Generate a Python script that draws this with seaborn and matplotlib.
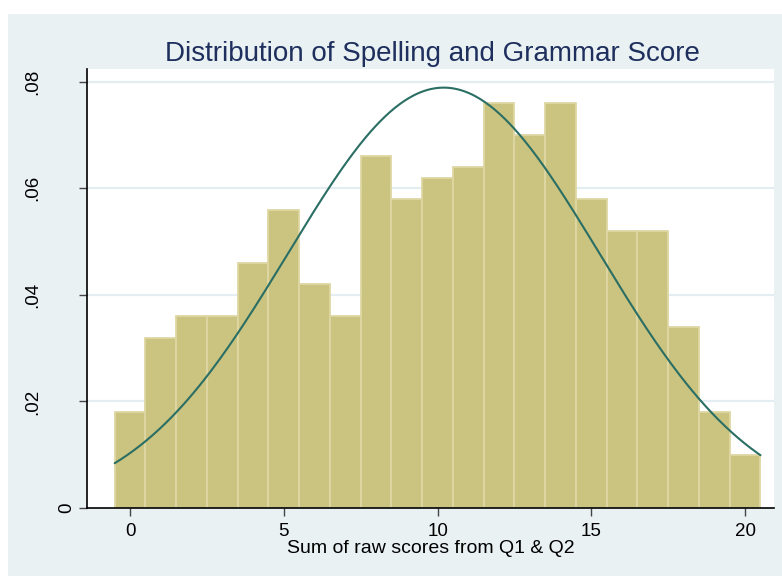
import numpy as np
import pandas as pd
import matplotlib
matplotlib.use("Agg")
import matplotlib.pyplot as plt
import seaborn as sns
from matplotlib.patches import Rectangle

# ---- data ----
scores = list(range(0, 21))
density = [0.018, 0.032, 0.036, 0.036, 0.046, 0.056, 0.042, 0.036, 0.066, 0.058,
           0.062, 0.064, 0.076, 0.070, 0.076, 0.058, 0.052, 0.052, 0.034, 0.018, 0.010]
x_ticks = [0, 5, 10, 15, 20]
x_tick_labels = ["0", "5", "10", "15", "20"]
y_ticks = [0, 0.02, 0.04, 0.06, 0.08]
y_tick_labels = ["0", ".02", ".04", ".06", ".08"]
title = "Distribution of Spelling and Grammar Score"
xlabel = "Sum of raw scores from Q1 & Q2"

df = pd.DataFrame({"score": scores, "density": density})

# normal curve fitted from the histogram (like Stata's `normal` option)
w = np.array(density) / np.sum(density)
s = np.array(scores, dtype=float)
mu = np.sum(w * s)
sd = np.sqrt(np.sum(w * (s - mu) ** 2))
xs = np.linspace(-0.5, 20.5, 400)
curve = pd.DataFrame({"x": xs, "y": np.exp(-0.5 * ((xs - mu) / sd) ** 2) / (sd * np.sqrt(2 * np.pi))})

sns.set_theme(style="white")
plt.rcParams["font.family"] = ["Liberation Sans", "DejaVu Sans"]

BG = "#EAF1F3"
BAR = "#CBC380"
EDGE = "#DED7A3"
LINE = "#2A6E64"
TITLE_C = "#1E2F5E"
GRID = "#E4EDF1"

fig = plt.figure(figsize=(7.82, 5.76), dpi=100)
fig.patch.set_facecolor("white")
fig.patches.append(Rectangle((8 / 782, 0), 1, (576 - 14) / 576, transform=fig.transFigure,
                             facecolor=BG, edgecolor="none", zorder=-10))

ax = fig.add_axes([87 / 782, (576 - 508) / 576, (774 - 87) / 782, (508 - 69) / 576])
ax.set_facecolor("white")

for yv in y_ticks[1:]:
    ax.axhline(yv, color=GRID, lw=1.6, zorder=0)

sns.histplot(data=df, x="score", weights="density", discrete=True, stat="count",
             color=BAR, edgecolor=EDGE, linewidth=1.3, alpha=1, ax=ax, zorder=2)
sns.lineplot(data=curve, x="x", y="y", color=LINE, lw=1.5, ax=ax, zorder=3)

ax.set_xlim(-1.4, 20.94)
ax.set_ylim(0, 0.0824)
ax.set_xticks(x_ticks)
ax.set_xticklabels(x_tick_labels, fontsize=13.5, color="black")
ax.set_yticks(y_ticks)
ax.set_yticklabels(y_tick_labels, fontsize=13.5, color="black", rotation=90, va="center")
ax.tick_params(axis="x", direction="out", length=5.5, width=1, color="#444444", pad=5, bottom=True)
ax.tick_params(axis="y", direction="out", length=6, width=1, color="#444444", pad=27, left=True)

# Stata places the "0" label closer to the axis
ticks = ax.yaxis.get_major_ticks()
ticks[0].label1.set_x(34 / 687)

ax.set_xlabel(xlabel, fontsize=14, color="black", labelpad=0)
ax.xaxis.set_label_coords(0.5, -0.072)
ax.set_ylabel("")

for side in ["top", "right"]:
    ax.spines[side].set_visible(False)
for side in ["left", "bottom"]:
    ax.spines[side].set_color("black")
    ax.spines[side].set_linewidth(1.2)

fig.text(0.553, (576 - 61) / 576, title, ha="center", va="baseline", fontsize=20, color=TITLE_C)

fig.savefig("out.png", dpi=100, facecolor=fig.get_facecolor())
